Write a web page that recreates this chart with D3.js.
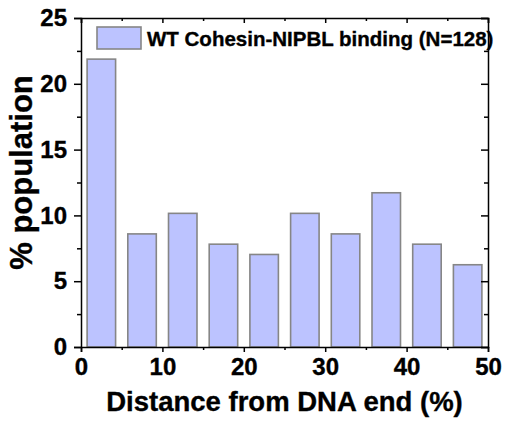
<!DOCTYPE html>
<html>
<head>
<meta charset="utf-8">
<script src="https://cdn.jsdelivr.net/npm/d3@7"></script>
<style>
  html, body { margin: 0; padding: 0; background: #fff; }
  svg { display: block; }
  svg text { font-family: "Liberation Sans", Arial, sans-serif; font-weight: 700; fill: #000; stroke: #000; stroke-width: 0.35px; }
</style>
</head>
<body>
<svg id="chart" width="505" height="425"></svg>
<script>
// Histogram bins: centre of each 5%-wide bin along the DNA
const binCenters = [2.5, 7.5, 12.5, 17.5, 22.5, 27.5, 32.5, 37.5, 42.5, 47.5];
// Percent of molecules in each bin (counts out of N=128)
const percentPopulation = [21.875, 8.594, 10.156, 7.8125, 7.031, 10.156, 8.594, 11.719, 7.8125, 6.25];
const xTicks = [0, 10, 20, 30, 40, 50];
const yTicks = [0, 5, 10, 15, 20, 25];
const legendLabel = "WT Cohesin-NIPBL binding (N=128)";

const svg = d3.select("#chart");
const margin = { left: 81, right: 17, top: 18, bottom: 78 };
const W = 505, H = 425;
const x = d3.scaleLinear().domain([0, 50]).range([margin.left, W - margin.right]);
const y = d3.scaleLinear().domain([0, 25]).range([H - margin.bottom, margin.top]);

const barWidth = 3.5; // in data units
const fill = "#bcc3ff", edge = "#868686";

// bars
svg.append("g").selectAll("rect").data(binCenters).join("rect")
  .attr("x", (d) => x(d - barWidth / 2))
  .attr("width", (d) => x(d + barWidth / 2) - x(d - barWidth / 2))
  .attr("y", (d, i) => y(percentPopulation[i]))
  .attr("height", (d, i) => y(0) - y(percentPopulation[i]))
  .attr("fill", fill).attr("stroke", edge).attr("stroke-width", 1.6);

const minorX = d3.range(5, 50, 10);
const minorY = d3.range(2.5, 25, 5);

function styleAxis(g) {
  g.attr("font-family", null).attr("font-size", null);
  g.select(".domain").attr("stroke", "#000").attr("stroke-width", 1.5);
  g.selectAll(".tick line").attr("stroke", "#000").attr("stroke-width", 1.5);
  g.selectAll("text").attr("fill", null).style("font-size", "24px");
}

// bottom axis
svg.append("g").attr("transform", `translate(0,${y(0)})`)
  .call(d3.axisBottom(x).tickValues(xTicks).tickSize(5).tickPadding(6).tickFormat(d3.format("d")))
  .call(styleAxis);
svg.append("g").attr("transform", `translate(0,${y(0)})`)
  .call(d3.axisBottom(x).tickValues(minorX).tickSize(3).tickFormat(""))
  .call(styleAxis).select(".domain").remove();

// top axis (ticks inward)
svg.append("g").attr("transform", `translate(0,${y(25)})`)
  .call(d3.axisTop(x).tickValues(xTicks).tickSize(-5).tickFormat(""))
  .call(styleAxis);
svg.append("g").attr("transform", `translate(0,${y(25)})`)
  .call(d3.axisTop(x).tickValues(minorX).tickSize(-3).tickFormat(""))
  .call(styleAxis).select(".domain").remove();

// left axis
svg.append("g").attr("transform", `translate(${x(0)},0)`)
  .call(d3.axisLeft(y).tickValues(yTicks).tickSize(7).tickPadding(7).tickFormat(d3.format("d")))
  .call(styleAxis);
svg.append("g").attr("transform", `translate(${x(0)},0)`)
  .call(d3.axisLeft(y).tickValues(minorY).tickSize(4).tickFormat(""))
  .call(styleAxis).select(".domain").remove();

// right axis (ticks inward)
svg.append("g").attr("transform", `translate(${x(50)},0)`)
  .call(d3.axisRight(y).tickValues(yTicks).tickSize(-7).tickFormat(""))
  .call(styleAxis);
svg.append("g").attr("transform", `translate(${x(50)},0)`)
  .call(d3.axisRight(y).tickValues(minorY).tickSize(-4).tickFormat(""))
  .call(styleAxis).select(".domain").remove();

// axis titles
svg.append("text")
  .attr("x", (x(0) + x(50)) / 2).attr("y", 411)
  .attr("text-anchor", "middle").style("font-size", "27.5px")
  .text("Distance from DNA end (%)");
svg.append("text")
  .attr("transform", `translate(32,${(y(0) + y(25)) / 2 - 10}) rotate(-90)`)
  .attr("text-anchor", "middle").style("font-size", "31px")
  .text("% population");

// legend
const lg = svg.append("g");
lg.append("rect").attr("x", 97).attr("y", 27).attr("width", 44).attr("height", 22)
  .attr("fill", fill).attr("stroke", edge).attr("stroke-width", 1.6);
lg.append("text").attr("x", 147).attr("y", 45.5).style("font-size", "20.5px")
  .text(legendLabel);
</script>
</body>
</html>
